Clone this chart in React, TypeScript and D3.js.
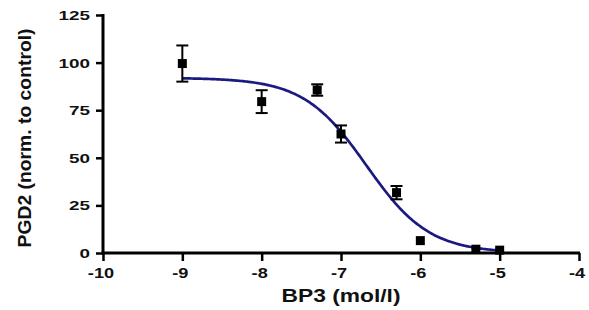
import React, { useEffect, useRef } from 'react';
import * as d3 from 'd3';

const width = 589;
const height = 310;

// measured data (log molar concentration of BP3)
const logConc = [-9, -8, -7.3, -7, -6.3, -6, -5.3, -5];
const pgd2Mean = [99.5, 79.5, 85.6, 62.5, 31.7, 6.5, 2, 1.5];
const pgd2Sem = [9.5, 6, 3, 4.5, 3.5, 0, 0, 0];

// sigmoidal dose-response fit
const fitTop = 92;
const fitBottom = 0;
const fitLogIC50 = -6.68;
const fitHill = 1.1;
const fitRange = [-9, -5];

const xTicks = [-10, -9, -8, -7, -6, -5, -4];
const yTicks = [0, 25, 50, 75, 100, 125];

const plot = { left: 103, right: 579, top: 15, bottom: 253 };

const font = '"Liberation Sans", Arial, sans-serif';

export default function App(): JSX.Element {
  const container = useRef<HTMLDivElement>(null);

  useEffect(() => {
    document.body.style.margin = '0';
    const svg = d3
      .select(container.current)
      .append('svg')
      .attr('width', width)
      .attr('height', height)
      .style('display', 'block')
      .style('background', '#fff');

    const xScale = d3.scaleLinear().domain([-10, -4]).range([plot.left, plot.right]);
    const yScale = d3.scaleLinear().domain([0, 125]).range([plot.bottom, plot.top]);

    // y axis
    const yAxis = svg
      .append('g')
      .attr('transform', 'translate(' + plot.left + ',0)')
      .call(d3.axisLeft(yScale).tickValues(yTicks).tickSize(7).tickFormat(() => ''));
    yAxis.select('.domain').attr('d', `M0,${plot.bottom + 1.5}V${plot.top - 1}`).attr('stroke-width', 3).attr('stroke', '#000');
    yAxis.selectAll('.tick line').attr('stroke-width', 2.5).attr('stroke', '#000');
    yTicks.forEach((t) => {
      svg
        .append('text')
        .attr('transform', `translate(${plot.left - 13},${yScale(t) + 5}) scale(1.4,1)`)
        .attr('text-anchor', 'end')
        .attr('font-family', font)
        .attr('font-weight', 'bold')
        .attr('font-size', 13.5)
        .attr('fill', '#111')
        .text(t);
    });

    // x axis
    const xAxis = svg
      .append('g')
      .attr('transform', 'translate(0,' + plot.bottom + ')')
      .call(d3.axisBottom(xScale).tickValues(xTicks).tickSize(8).tickFormat(() => ''));
    xAxis.select('.domain').attr('d', `M${plot.left - 1.5},0H${plot.right + 1}`).attr('stroke-width', 3).attr('stroke', '#000');
    xAxis.selectAll('.tick line').attr('stroke-width', 2.5).attr('stroke', '#000');
    xTicks.forEach((t) => {
      svg
        .append('text')
        .attr('transform', `translate(${xScale(t) - 2},${plot.bottom + 25}) scale(1.3,1)`)
        .attr('text-anchor', 'middle')
        .attr('font-family', font)
        .attr('font-weight', 'bold')
        .attr('font-size', 14)
        .attr('fill', '#111')
        .text(t);
    });

    // axis titles
    svg
      .append('text')
      .attr('transform', `translate(${xScale(-7)},${plot.bottom + 49}) scale(1.2,1)`)
      .attr('text-anchor', 'middle')
      .attr('font-family', font)
      .attr('font-weight', 'bold')
      .attr('font-size', 19)
      .attr('fill', '#111')
      .text('BP3 (mol/l)');
    svg
      .append('text')
      .attr('transform', `translate(31,138) rotate(-90)`)
      .attr('text-anchor', 'middle')
      .attr('font-family', font)
      .attr('font-weight', 'bold')
      .attr('font-size', 18)
      .attr('textLength', 219)
      .attr('lengthAdjust', 'spacingAndGlyphs')
      .attr('fill', '#111')
      .text('PGD2 (norm. to control)');

    // fitted curve
    const fit = (x: number) => fitBottom + (fitTop - fitBottom) / (1 + Math.pow(10, (x - fitLogIC50) * fitHill));
    const curveX = d3.range(fitRange[0], fitRange[1] + 0.001, 0.02);
    const lineGenerator = d3
      .line<number>()
      .x((d) => xScale(d))
      .y((d) => yScale(fit(d)))
      .curve(d3.curveBasis);
    svg
      .append('path')
      .attr('d', lineGenerator(curveX) || '')
      .attr('fill', 'none')
      .attr('stroke', '#1a1a80')
      .attr('stroke-width', 2.7);

    // error bars
    const points = logConc.map((x, i) => ({ x, y: pgd2Mean[i], e: pgd2Sem[i] }));
    const bars = svg.append('g').attr('stroke', '#000').attr('stroke-width', 2);
    points
      .filter((d) => d.e > 0)
      .forEach((d) => {
        const cx = xScale(d.x);
        const y0 = yScale(d.y - d.e);
        const y1 = yScale(d.y + d.e);
        bars.append('line').attr('x1', cx).attr('x2', cx).attr('y1', y0).attr('y2', y1);
        bars.append('line').attr('x1', cx - 6).attr('x2', cx + 6).attr('y1', y0).attr('y2', y0);
        bars.append('line').attr('x1', cx - 6).attr('x2', cx + 6).attr('y1', y1).attr('y2', y1);
      });

    // markers
    svg
      .append('g')
      .selectAll('rect')
      .data(points)
      .join('rect')
      .attr('x', (d) => xScale(d.x) - 4.5)
      .attr('y', (d) => yScale(d.y) - 4.5)
      .attr('width', 9)
      .attr('height', 9)
      .attr('fill', '#000');

    return () => {
      d3.select(container.current).selectAll('*').remove();
    };
  }, []);

  return <div className="dose-response" ref={container} />;
}
